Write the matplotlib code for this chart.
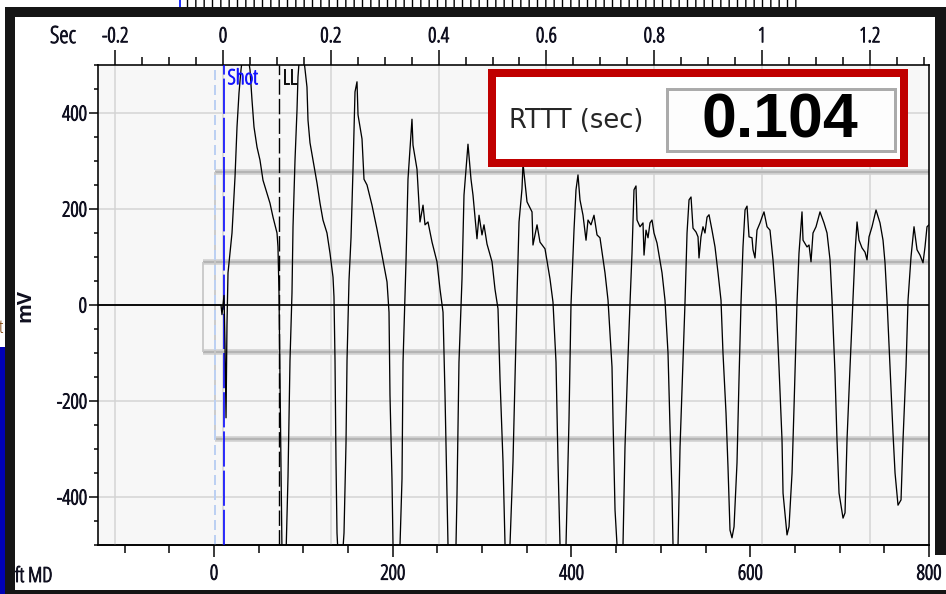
import os
import matplotlib
matplotlib.use("Agg")
import matplotlib.pyplot as plt
from matplotlib import font_manager
from matplotlib import patheffects
from matplotlib.patches import Rectangle
from matplotlib.ticker import MultipleLocator, FuncFormatter

W, H = 946, 594

# geophone trace: time (s) and amplitude (mV)
trace_t = [-0.2319, -0.0037, -0.0019, 0.0, 0.0019, 0.0037, 0.0056, 0.0074, 0.0093, 0.0167,
           0.0223, 0.0260, 0.0297, 0.0334, 0.0408, 0.0501, 0.0538, 0.0575, 0.0631, 0.0686,
           0.0742, 0.0816, 0.0872, 0.0928, 0.1002, 0.1020, 0.1039, 0.1067, 0.1095, 0.1132,
           0.1169, 0.1206, 0.1243, 0.1280, 0.1299, 0.1336, 0.1373, 0.1391, 0.1447, 0.1503,
           0.1558, 0.1577, 0.1614, 0.1670, 0.1744, 0.1800, 0.1855, 0.1929, 0.1985, 0.2041,
           0.2059, 0.2078, 0.2096, 0.2115, 0.2171, 0.2245, 0.2282, 0.2301, 0.2338, 0.2375,
           0.2412, 0.2449, 0.2486, 0.2505, 0.2579, 0.2616, 0.2672, 0.2764, 0.2857, 0.2950,
           0.3043, 0.3080, 0.3098, 0.3135, 0.3154, 0.3210, 0.3284, 0.3321, 0.3340, 0.3395,
           0.3432, 0.3506, 0.3525, 0.3599, 0.3655, 0.3711, 0.3748, 0.3803, 0.3878, 0.3970,
           0.4026, 0.4082, 0.4119, 0.4156, 0.4174, 0.4249, 0.4323, 0.4341, 0.4378, 0.4434,
           0.4471, 0.4545, 0.4601, 0.4638, 0.4712, 0.4750, 0.4805, 0.4842, 0.4898, 0.4991,
           0.5046, 0.5102, 0.5139, 0.5195, 0.5232, 0.5288, 0.5325, 0.5380, 0.5417, 0.5455,
           0.5492, 0.5547, 0.5566, 0.5640, 0.5733, 0.5751, 0.5826, 0.5881, 0.5974, 0.6067,
           0.6122, 0.6178, 0.6215, 0.6252, 0.6308, 0.6364, 0.6419, 0.6456, 0.6512, 0.6549,
           0.6586, 0.6623, 0.6679, 0.6735, 0.6772, 0.6827, 0.6883, 0.6939, 0.6994, 0.7087,
           0.7143, 0.7217, 0.7236, 0.7273, 0.7310, 0.7365, 0.7421, 0.7458, 0.7514, 0.7551,
           0.7588, 0.7607, 0.7625, 0.7662, 0.7681, 0.7737, 0.7792, 0.7811, 0.7848, 0.7885,
           0.7922, 0.7959, 0.7996, 0.8052, 0.8145, 0.8200, 0.8256, 0.8293, 0.8330, 0.8349,
           0.8386, 0.8442, 0.8479, 0.8534, 0.8571, 0.8609, 0.8646, 0.8683, 0.8720, 0.8776,
           0.8813, 0.8831, 0.8868, 0.8905, 0.8942, 0.8980, 0.9017, 0.9072, 0.9128, 0.9184,
           0.9239, 0.9276, 0.9332, 0.9369, 0.9406, 0.9443, 0.9481, 0.9536, 0.9573, 0.9610,
           0.9647, 0.9685, 0.9722, 0.9759, 0.9814, 0.9833, 0.9870, 0.9907, 0.9963, 1.0000,
           1.0037, 1.0093, 1.0148, 1.0204, 1.0260, 1.0315, 1.0371, 1.0390, 1.0464, 1.0501,
           1.0557, 1.0594, 1.0649, 1.0686, 1.0742, 1.0761, 1.0835, 1.0872, 1.0909, 1.0946,
           1.1002, 1.1076, 1.1150, 1.1206, 1.1262, 1.1299, 1.1354, 1.1391, 1.1429, 1.1503,
           1.1540, 1.1577, 1.1633, 1.1688, 1.1725, 1.1763, 1.1800, 1.1855, 1.1911, 1.1948,
           1.1985, 1.2041, 1.2115, 1.2189, 1.2245, 1.2282, 1.2319, 1.2375, 1.2430, 1.2468,
           1.2523, 1.2579, 1.2616, 1.2672, 1.2709, 1.2764, 1.2820, 1.2876, 1.2931, 1.2987,
           1.3024, 1.3061, 1.3098]
trace_mv = [0, 0, -20, 0, 20, -80, -235, -40, 67, 150,
            267, 371, 442, 490, 560, 490, 427, 371, 329, 302,
            260, 233, 212, 183, 150, 121, 25, -250, -520, -600,
            -520, -358, -115, 25, 163, 302, 406, 475, 560, 510,
            454, 385, 338, 302, 254, 212, 177, 150, 108, 58,
            17, -115, -323, -475, -600, -475, -288, -115, 52, 140,
            283, 444, 465, 396, 346, 262, 250, 208, 158, 104,
            48, -15, -188, -362, -498, -590, -500, -362, -119, 90,
            262, 387, 333, 283, 173, 208, 167, 173, 131, 90,
            33, -15, -188, -396, -498, -580, -498, -396, -119, 54,
            229, 335, 262, 229, 138, 187, 146, 167, 127, 90,
            33, -8, -154, -327, -498, -570, -498, -327, -154, 21,
            173, 242, 295, 215, 194, 125, 167, 131, 117, 54,
            6, -119, -327, -498, -540, -498, -240, 0, 156, 240,
            271, 219, 187, 135, 177, 167, 187, 146, 140, 67,
            10, -129, -240, -427, -500, -530, -500, -296, -108, 4,
            108, 177, 240, 248, 177, 163, 171, 104, 156, 140,
            171, 177, 150, 129, 67, 10, -100, -254, -392, -500,
            -520, -500, -296, -115, 4, 150, 219, 225, 160, 152,
            142, 98, 142, 163, 150, 183, 188, 156, 121, 67,
            10, -100, -225, -338, -469, -485, -462, -329, -156, 4,
            121, 198, 206, 142, 140, 115, 98, 156, 171, 183,
            194, 163, 156, 94, 10, -129, -281, -392, -479, -462,
            -350, -212, 4, 108, 194, 135, 121, 125, 90, 150,
            163, 194, 171, 150, 94, 10, -142, -281, -392, -444,
            -433, -281, -129, 10, 108, 173, 135, 119, 110, 94,
            142, 163, 198, 171, 135, 88, 10, -129, -267, -350,
            -417, -406, -281, -129, 10, 100, 163, 115, 104, 88,
            121, 163, 167]

sec_range = (-0.2319, 1.3098)
mv_range = (-500, 500)
shot_t = 0.002
ll_t = 0.104
depth_zero_t = -0.015
gate_inner_t = -0.037
gate_outer = [278, -280]
gate_inner = [90, -97]
rttt_label = "RTTT (sec)"
rttt_value = "0.104"

# depth axis (ft MD) is a linear map of time in this view
FT_PER_SEC = 603.1
FT_AT_ZERO = 10.07

# the app uses a tall, narrow face -> look for an extra condensed one
fonts = font_manager.fontManager.ttflist
by_stem = {os.path.splitext(os.path.basename(f.fname))[0]: f for f in fonts}


def alias_font(stems, alias):
    for s in stems:
        if s in by_stem:
            fonts.append(font_manager.FontEntry(fname=by_stem[s].fname, name=alias,
                                                style="normal", variant="normal",
                                                weight="normal", stretch="normal",
                                                size="scalable"))
            return True
    return False


have_xc = alias_font(["NotoSans-ExtraCondensedMedium", "NotoSans-ExtraCondensed",
                      "NotoSans-CondensedMedium", "NotoSans-Condensed"], "AppNarrow")
alias_font(["NotoSans-ExtraCondensedBold", "NotoSans-CondensedBold"], "AppNarrowBold")
if have_xc:
    plt.rcParams["font.family"] = ["AppNarrow", "DejaVu Sans"]
    BOLD_FAM = ["AppNarrowBold", "AppNarrow", "DejaVu Sans"]
    TICK_FS = 18.5
else:
    narrow = "DejaVu Sans"
    for fam in ["Noto Sans", "Roboto", "Open Sans", "DejaVu Sans"]:
        if any(f.name == fam and f.stretch == "condensed" for f in fonts):
            narrow = fam
            break
    plt.rcParams["font.family"] = [narrow, "DejaVu Sans"]
    plt.rcParams["font.stretch"] = "condensed"
    BOLD_FAM = [narrow, "DejaVu Sans"]
    TICK_FS = 15

INK = "#101020"
PX = 0.72  # points per pixel at 100 dpi


def heavy(color):
    return [patheffects.withStroke(linewidth=0.7, foreground=color)]


fig = plt.figure(figsize=(W / 100, H / 100), dpi=100)
fig.patch.set_facecolor("white")


def px_rect(x0, y0, x1, y1, **kw):
    return Rectangle((x0 / W, 1 - y1 / H), (x1 - x0) / W, (y1 - y0) / H,
                     transform=fig.transFigure, **kw)


ax = fig.add_axes([98 / W, 1 - 545 / H, (929 - 98) / W, (545 - 65) / H])
ax.set_facecolor("#f7f7f7")
ax.set_xlim(sec_range)
ax.set_ylim(mv_range)

ax.xaxis.set_major_locator(MultipleLocator(0.2))
ax.xaxis.set_minor_locator(MultipleLocator(0.05))
ax.yaxis.set_major_locator(MultipleLocator(200))
ax.yaxis.set_minor_locator(MultipleLocator(50))
ax.xaxis.tick_top()


def sec_fmt(v, p):
    s = f"{round(v, 2):g}"
    return "0" if s == "-0" else s


ax.xaxis.set_major_formatter(FuncFormatter(sec_fmt))
ax.yaxis.set_major_formatter(FuncFormatter(lambda v, p: f"{int(round(v))}"))
ax.grid(True, which="major", color="#d4d4d4", lw=1.5 * PX)
ax.set_axisbelow(True)

ax.tick_params(axis="x", which="major", length=15 * PX, width=1.5 * PX, pad=2,
               labelsize=TICK_FS, labelcolor=INK)
ax.tick_params(axis="x", which="minor", length=8 * PX, width=1.5 * PX)
ax.tick_params(axis="y", which="major", length=9 * PX, width=1.5 * PX, pad=1.5,
               labelsize=TICK_FS, labelcolor=INK)
ax.tick_params(axis="y", which="minor", length=4 * PX, width=1.5 * PX)
for sp in ax.spines.values():
    sp.set_linewidth(1.6 * PX)

secax = ax.secondary_xaxis("bottom", functions=(lambda t: t * FT_PER_SEC + FT_AT_ZERO,
                                                lambda d: (d - FT_AT_ZERO) / FT_PER_SEC))
secax.xaxis.set_major_locator(MultipleLocator(200))
secax.xaxis.set_minor_locator(MultipleLocator(50))
secax.xaxis.set_major_formatter(FuncFormatter(lambda v, p: f"{int(round(v))}"))
secax.tick_params(which="major", length=12 * PX, width=1.5 * PX, pad=5.5,
                  labelsize=TICK_FS, labelcolor=INK)
secax.tick_params(which="minor", length=8 * PX, width=1.5 * PX)
secax.spines["bottom"].set_linewidth(1.6 * PX)

# gate bands
for lvl in gate_outer:
    ax.hlines(lvl, depth_zero_t, sec_range[1], color="#cfcfcf", lw=5.5 * PX, zorder=1)
    ax.hlines(lvl, depth_zero_t, sec_range[1], color="#b4b4b4", lw=2 * PX, zorder=1)
for lvl in gate_inner:
    ax.hlines(lvl, gate_inner_t, sec_range[1], color="#cfcfcf", lw=5.5 * PX, zorder=1)
    ax.hlines(lvl, gate_inner_t, sec_range[1], color="#b4b4b4", lw=2 * PX, zorder=1)
ax.vlines(gate_inner_t, gate_inner[1], gate_inner[0], color="#c8c8c8", lw=1.8 * PX, zorder=1)
ax.vlines(depth_zero_t, gate_outer[1], gate_outer[0], color="#c8c8c8", lw=1.8 * PX, zorder=1)

ax.axvline(depth_zero_t, color="#bcd0f2", lw=2 * PX, ls=(0, (5, 2.5)), zorder=2)
ax.axhline(0, color="black", lw=1.6 * PX, zorder=3)
ax.axvline(shot_t, color="#0000ff", lw=1.6 * PX, ls=(0, (22, 2.5)), zorder=3)
ax.axvline(ll_t, color="black", lw=1.4 * PX, ls=(0, (11, 3)), zorder=3)

ax.plot(trace_t, trace_mv, color="black", lw=1.3 * PX, zorder=4)

ax.annotate("Shot", xy=(shot_t, 1), xycoords=("data", "axes fraction"),
            xytext=(2.5, -3), textcoords="offset points", ha="left", va="top",
            color="#1414ff", fontsize=TICK_FS, zorder=5, path_effects=heavy("#1414ff"))
ax.annotate("LL", xy=(ll_t, 1), xycoords=("data", "axes fraction"),
            xytext=(2.5, -3), textcoords="offset points", ha="left", va="top",
            color="#101010", fontsize=TICK_FS, zorder=5, path_effects=heavy("#101010"))

fig.text(63 / W, 1 - 37 / H, "Sec", ha="center", va="center", fontsize=TICK_FS + 2,
         color=INK, path_effects=heavy(INK))
fig.text(15 / W, 1 - 577 / H, "ft MD", ha="left", va="center", fontsize=TICK_FS, color=INK,
         path_effects=heavy(INK))
fig.text(25 / W, 1 - 305 / H, "mV", ha="center", va="center", rotation=90,
         fontsize=TICK_FS - 0.5, family=BOLD_FAM, fontweight="bold", color=INK)

# RTTT readout panel
fig.add_artist(px_rect(492, 73, 904, 163, facecolor="white", edgecolor="#c00000",
                       lw=8 * PX, zorder=6))
fig.add_artist(px_rect(666.5, 89.5, 894.5, 150.5, facecolor="#fdfdfd", edgecolor="#ababab",
                       lw=3 * PX, zorder=7))
fig.text(509 / W, 1 - 121 / H, rttt_label, ha="left", va="center", fontsize=18.5,
         family="DejaVu Sans", stretch="normal", color="#262626", zorder=8)
fig.text(780 / W, 1 - 121 / H, rttt_value, ha="center", va="center", fontsize=45,
         family="Liberation Sans", stretch="normal", fontweight="bold", color="black", zorder=8)

# screenshot frame
fig.add_artist(px_rect(183, 0, 800, 7, facecolor="white", edgecolor="black", hatch="||",
                       lw=0, zorder=9))
fig.add_artist(px_rect(179, 0, 181, 7, facecolor="#2030ff", lw=0, zorder=9))
fig.add_artist(px_rect(5, 7, W, 17, facecolor="#151515", lw=0, zorder=10))
fig.add_artist(px_rect(5, 7, 15, H, facecolor="#151515", lw=0, zorder=10))
fig.add_artist(px_rect(935, 7, W, 555, facecolor="#151515", lw=0, zorder=10))
fig.add_artist(px_rect(5, 590, W, H, facecolor="#151515", lw=0, zorder=10))
fig.add_artist(px_rect(0, 347, 5, H, facecolor="#0000b4", lw=0, zorder=10))
fig.text(-1 / W, 1 - 328 / H, "t", ha="left", va="center", fontsize=14, color="#7a3a00")

# thicken the tick labels the way the app renders them
fig.canvas.draw()
for axis in (ax.xaxis, ax.yaxis, secax.xaxis):
    for lbl in axis.get_ticklabels(which="both"):
        lbl.set_path_effects(heavy(INK))

fig.savefig("out.png", dpi=100, facecolor=fig.get_facecolor())
